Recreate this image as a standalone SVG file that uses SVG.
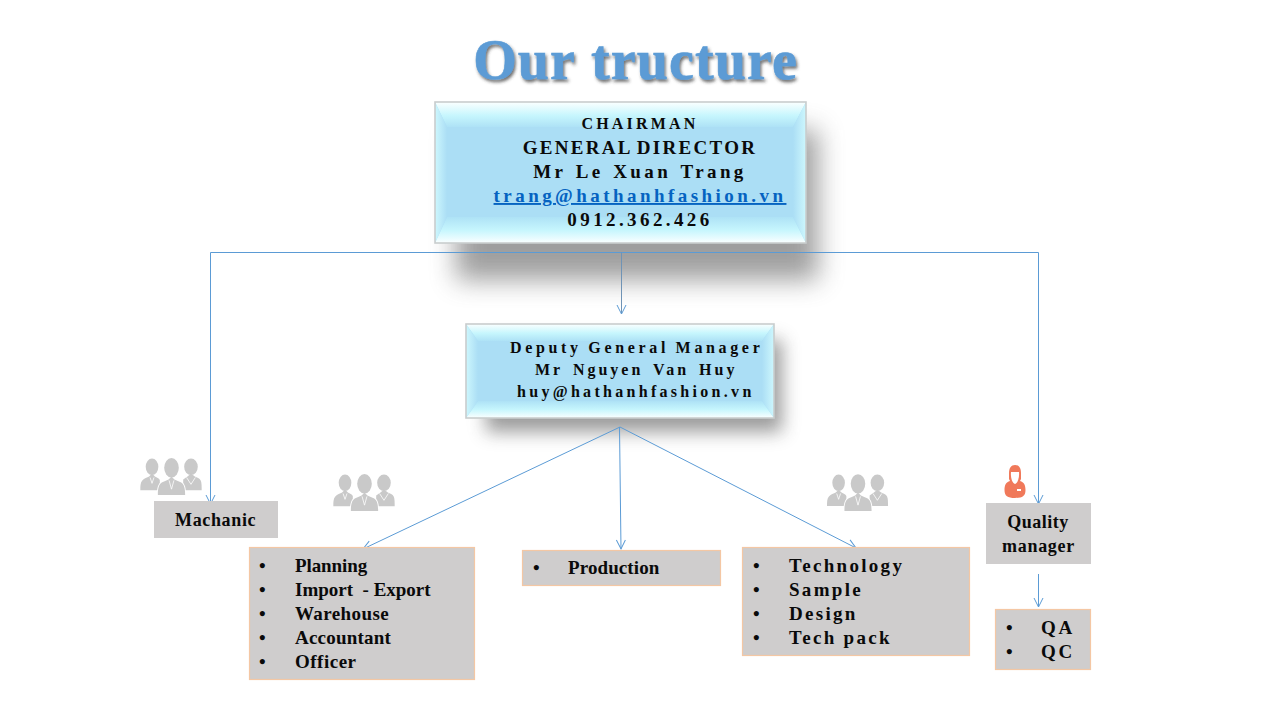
<svg xmlns="http://www.w3.org/2000/svg" width="1280" height="720" viewBox="0 0 1280 720">
<style>
text{font-family:"Liberation Serif","Times New Roman",serif;font-weight:bold;fill:#0a0a0a}
.c{text-anchor:middle}
.title{font-size:56px;fill:#5b9bd5;stroke:#5b9bd5;stroke-width:.6px;letter-spacing:1.100px;word-spacing:1px}
.l{fill:none;stroke:#5b9bd5;stroke-width:1}
.g{fill:#cfcdcd}
.o{stroke:#f4c7a4;stroke-width:1.2}
.f{fill:#abdef5}
.e{stroke:#c9cdce;stroke-width:1.6;fill:none}
.i{fill:#c9c9c9}
.w{fill:none;stroke:#fff;stroke-width:.8}
</style>
<defs>
<filter id="b1" x="-20%" y="-40%" width="140%" height="180%"><feGaussianBlur stdDeviation="13"/></filter>
<filter id="b2" x="-20%" y="-40%" width="140%" height="180%"><feGaussianBlur stdDeviation="9"/></filter>
<filter id="ts" x="-10%" y="-30%" width="120%" height="160%"><feDropShadow dx="1.500" dy="2.500" stdDeviation="1.500" flood-color="#333" flood-opacity=".7"/></filter>
<linearGradient id="top" x1="0" y1="0" x2="0" y2="1"><stop offset="0" stop-color="#fbffff"/><stop offset=".55" stop-color="#c6f6fd"/><stop offset="1" stop-color="#aee2f6"/></linearGradient>
<linearGradient id="bot" x1="0" y1="0" x2="0" y2="1"><stop offset="0" stop-color="#aee2f6"/><stop offset=".5" stop-color="#c6f6fd"/><stop offset="1" stop-color="#fbffff"/></linearGradient>
<linearGradient id="lft" x1="0" y1="0" x2="1" y2="0"><stop offset="0" stop-color="#cdf7fd"/><stop offset="1" stop-color="#abdef5"/></linearGradient>
<linearGradient id="rgt" x1="0" y1="0" x2="1" y2="0"><stop offset="0" stop-color="#abdef5"/><stop offset="1" stop-color="#cdf7fd"/></linearGradient>
<marker id="a" markerWidth="12" markerHeight="12" refX="10" refY="6" orient="auto" markerUnits="userSpaceOnUse"><path d="M1 1.500L10 6L1 10.500" fill="none" stroke="#5b9bd5" stroke-width="1"/></marker>
<symbol id="people" viewBox="0 0 64 38" overflow="visible">
<ellipse class="i" cx="12" cy="8" rx="6.500" ry="8.500"/>
<path class="i" d="M0 32c0-4 0-8 2-10c2-2 5-3 7-4L12 15l3 3c2 .8 4 2 5 3.500L20 32z"/>
<path class="w" d="M10 19L12 25L14 19"/>
<ellipse class="i" cx="52" cy="8" rx="7" ry="8.500"/>
<path class="i" d="M44 21c2-1.500 4-2.500 5-3.500L52 15l4 3c2 .8 5 2 6 4c1 2 1 6 1 10H44z"/>
<path class="w" d="M47.500 19L52 26L56.500 19"/>
<path d="M17 38c0-8 1-13 5-15c2-1 4-2 6-3H36c2 1 4 2 6 3c4 2 5 7 5 15z" fill="#fff"/>
<ellipse class="i" cx="32" cy="9" rx="7.500" ry="10"/>
<path class="i" d="M18 37c0-7 1-11 4.500-13c2-1 4-2 6.500-3L32 18l3 3c2.500 1 4.500 2 6.500 3c3.500 2 4.500 6 4.500 13z"/>
<path class="w" d="M29.500 22L32 31L34.500 22"/>
</symbol>
</defs>

<g id="title">
<text class="c title" x="635.500" y="79" filter="url(#ts)">Our tructure</text>
</g>

<g id="chairman">
<rect x="456" y="130" width="362" height="150" fill="#5a5a5a" opacity=".58" filter="url(#b1)"/>
<rect class="f" x="435" y="102" width="371" height="141"/>
<polygon points="435,102 806,102 793,127 447,127" fill="url(#top)"/>
<polygon points="435,243 806,243 793,217 447,217" fill="url(#bot)"/>
<polygon points="435,102 447,127 447,217 435,243" fill="url(#lft)"/>
<polygon points="806,102 793,127 793,217 806,243" fill="url(#rgt)"/>
<rect class="e" x="435" y="102" width="371" height="141"/>
<text class="c" x="640" y="129" style="font-size:16px;letter-spacing:3.200px">CHAIRMAN</text>
<text class="c" x="640" y="154" style="font-size:19px;letter-spacing:2.300px;word-spacing:-2px">GENERAL DIRECTOR</text>
<text class="c" x="640" y="178" style="font-size:19px;letter-spacing:3.400px;word-spacing:1.500px">Mr Le Xuan Trang</text>
<text class="c" x="640" y="202" style="font-size:19px;letter-spacing:3.450px;fill:#0563c1;text-decoration:underline">trang@hathanhfashion.vn</text>
<text class="c" x="640" y="226" style="font-size:19px;letter-spacing:3.400px">0912.362.426</text>
</g>

<g id="deputy">
<rect x="486" y="340" width="296" height="92" fill="#555" opacity=".58" filter="url(#b2)"/>
<rect class="f" x="466" y="324" width="308" height="94"/>
<polygon points="466,324 774,324 762,341 478,341" fill="url(#top)"/>
<polygon points="466,418 774,418 762,401 478,401" fill="url(#bot)"/>
<polygon points="466,324 478,341 478,401 466,418" fill="url(#lft)"/>
<polygon points="774,324 762,341 762,401 774,418" fill="url(#rgt)"/>
<rect class="e" x="466" y="324" width="308" height="94"/>
<text x="510" y="353" style="font-size:16px;letter-spacing:3.650px;word-spacing:-1px">Deputy General Manager</text>
<text x="535" y="375" style="font-size:16px;letter-spacing:3px;word-spacing:3px">Mr Nguyen Van Huy</text>
<text x="517" y="397" style="font-size:16px;letter-spacing:3.300px">huy@hathanhfashion.vn</text>
</g>

<g id="connectors">
<path class="l" d="M210.500 252.500H1038.500"/>
<path class="l" d="M210.500 252.500V504" marker-end="url(#a)"/>
<path class="l" d="M1038.500 252.500V504" marker-end="url(#a)"/>
<path class="l" d="M621.500 252.500V314" marker-end="url(#a)" style="stroke:#6f93b5"/>
<path class="l" d="M620 427L363 549" marker-end="url(#a)"/>
<path class="l" d="M619.500 427L621 549" marker-end="url(#a)"/>
<path class="l" d="M620 427L856 548" marker-end="url(#a)"/>
<path class="l" d="M1038.500 574V607" marker-end="url(#a)"/>
</g>

<use href="#people" x="140" y="459" width="63" height="37"/>
<use href="#people" x="333" y="475" width="63" height="37"/>
<use href="#people" x="827" y="475" width="62" height="37"/>

<g id="quality-icon">
<path d="M1015 465c4 0 6 3 6 8v6l-1 2c4 1 5.500 4 5.500 9c0 6-3 8-10.500 8s-10.500-2-10.500-8c0-5 1.500-8 5.500-9l-1-2v-6c0-5 2-8 6-8z" fill="#f0795a"/>
<path d="M1011 472h8c.5 5-1 11-4 12c-3-1-4.500-7-4-12z" fill="#fff"/>
<rect x="1017" y="489" width="4" height="2" fill="#fff"/>
</g>

<g id="machanic">
<rect class="g" x="154" y="501" width="124" height="37"/>
<text x="175" y="526" style="font-size:18px;letter-spacing:.65px">Machanic</text>
</g>

<g id="admin">
<rect class="g o" x="249.500" y="547.500" width="225" height="132"/>
<g style="font-size:19px">
<text x="259" y="572">•</text><text x="295" y="572" style="letter-spacing:-.1px">Planning</text>
<text x="259" y="596">•</text><text x="295" y="596" xml:space="preserve">Import  - Export</text>
<text x="259" y="620">•</text><text x="295" y="620" style="letter-spacing:.4px">Warehouse</text>
<text x="259" y="644">•</text><text x="295" y="644" style="letter-spacing:.2px">Accountant</text>
<text x="259" y="668">•</text><text x="295" y="668" style="letter-spacing:.5px">Officer</text>
</g>
</g>

<g id="production">
<rect class="g o" x="522.500" y="550.500" width="198" height="35"/>
<g style="font-size:19px;letter-spacing:.1px">
<text x="533" y="574">•</text><text x="568" y="574">Production</text>
</g>
</g>

<g id="technology">
<rect class="g o" x="742.500" y="547.500" width="227" height="108"/>
<g style="font-size:19px;letter-spacing:2.300px">
<text x="753" y="572">•</text><text x="789" y="572">Technology</text>
<text x="753" y="596">•</text><text x="789" y="596">Sample</text>
<text x="753" y="620">•</text><text x="789" y="620">Design</text>
<text x="753" y="644">•</text><text x="789" y="644">Tech pack</text>
</g>
</g>

<g id="quality-manager">
<rect class="g" x="986" y="503" width="105" height="61"/>
<text class="c" x="1038" y="528" style="font-size:18px;letter-spacing:.5px">Quality</text>
<text class="c" x="1038.500" y="552" style="font-size:18px;letter-spacing:.7px">manager</text>
</g>

<g id="qa-qc">
<rect class="g o" x="995.500" y="609.500" width="95" height="60"/>
<g style="font-size:19px;letter-spacing:2.600px">
<text x="1006" y="634">•</text><text x="1041" y="634">QA</text>
<text x="1006" y="658">•</text><text x="1041" y="658">QC</text>
</g>
</g>
</svg>
